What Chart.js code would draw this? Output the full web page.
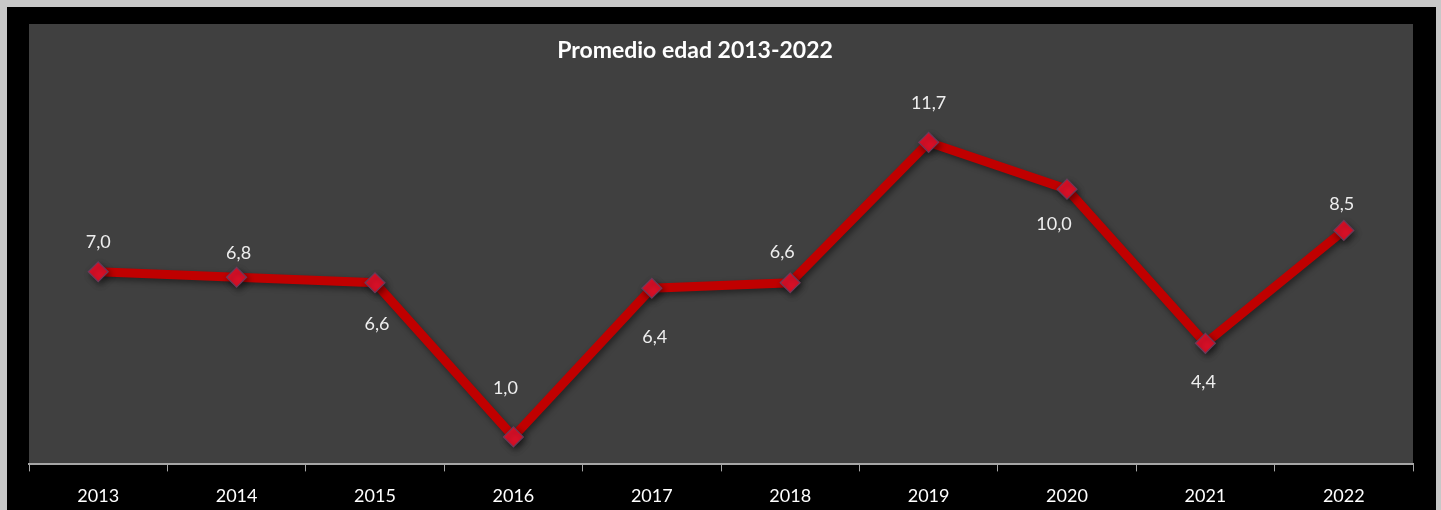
<!DOCTYPE html>
<html>
<head>
<meta charset="utf-8">
<script src="https://cdn.jsdelivr.net/npm/chart.js@4/dist/chart.umd.min.js"></script>
<style>
  html, body { margin: 0; padding: 0; background: #c8c8c8; overflow: hidden; }
  #wrap { position: absolute; left: 7px; top: 7px; width: 1429px; height: 503px; background: #000; overflow: hidden; }
  #inner { position: relative; width: 1429px; height: 514px; }
</style>
</head>
<body>
<div id="wrap"><div id="inner"><canvas id="chart"></canvas></div></div>
<script>
// Data
const years = ['2013', '2014', '2015', '2016', '2017', '2018', '2019', '2020', '2021', '2022'];
const avgAge = [7.0, 6.8, 6.6, 1.0, 6.4, 6.6, 11.7, 10.0, 4.4, 8.5];
const labelSide = ['above', 'above', 'below', 'above', 'below', 'above', 'above', 'below', 'below', 'above'];
const chartTitle = 'Promedio edad 2013-2022';

// gray plot panel + title
const panelPlugin = {
    id: 'panel',
    beforeDraw(chart) {
        const { ctx, chartArea: a } = chart;
        ctx.save();
        ctx.fillStyle = '#404040';
        ctx.fillRect(a.left, a.top, a.right - a.left, a.bottom - a.top);
        ctx.font = 'bold 23px Lato, "Open Sans", sans-serif';
        ctx.fillStyle = '#ffffff';
        ctx.textAlign = 'center';
        ctx.textBaseline = 'middle';
        ctx.fillText(chartTitle, (a.left + a.right) / 2 - 26, a.top + 27);
        ctx.restore();
    }
};

// value labels (comma decimals)
const labelPlugin = {
    id: 'valueLabels',
    afterDatasetsDraw(chart, args, opts) {
        const { ctx } = chart;
        const meta = chart.getDatasetMeta(0);
        ctx.save();
        ctx.font = '18px Lato, "Open Sans", sans-serif';
        ctx.fillStyle = '#eeeeee';
        ctx.textAlign = 'center';
        ctx.textBaseline = 'middle';
        meta.data.forEach((pt, i) => {
            const txt = avgAge[i].toFixed(1).replace('.', ',');
            const off = opts.offsets[i] || [0, 0];
            const dy = labelSide[i] === 'above' ? -opts.above : opts.below;
            ctx.fillText(txt, pt.x + off[0], pt.y + dy + off[1]);
        });
        ctx.restore();
    }
};

const shadowPlugin = {
    id: 'lineShadow',
    beforeDatasetDraw(chart) {
        const ctx = chart.ctx;
        ctx.save();
        ctx.shadowColor = 'rgba(0,0,0,0.45)';
        ctx.shadowBlur = 6;
        ctx.shadowOffsetX = 2;
        ctx.shadowOffsetY = 3;
    },
    afterDatasetDraw(chart) {
        chart.ctx.restore();
    }
};

const ctx = document.getElementById('chart').getContext('2d');
new Chart(ctx, {
    type: 'line',
    data: {
        labels: years,
        datasets: [{
            label: 'Promedio edad',
            data: avgAge,
            borderColor: '#c00000',
            borderWidth: 9,
            tension: 0,
            pointStyle: 'rectRot',
            pointRadius: 10,
            pointBackgroundColor: '#dc1028',
            pointBorderColor: '#6a3a5a',
            pointBorderWidth: 1.2
        }]
    },
    options: {
        responsive: true,
        maintainAspectRatio: false,
        animation: false,
        layout: { padding: { left: 22, right: 23, top: 17, bottom: 0 } },
        plugins: {
            legend: { display: false },
            tooltip: { enabled: false },
            valueLabels: {
                above: 30,
                below: 41,
                offsets: [[0, 0], [2, 6], [2, 0], [-8, -19], [3, 8], [-8, -1], [0, -9], [-13, -6], [-2, -2], [-2, 4]]
            }
        },
        scales: {
            x: {
                offset: true,
                grid: {
                    offset: true,
                    drawOnChartArea: false,
                    drawTicks: true,
                    tickLength: 7,
                    color: '#a6a6a6'
                },
                border: { color: '#a6a6a6', width: 2 },
                ticks: {
                    color: '#ffffff',
                    padding: 14,
                    font: { family: 'Lato, "Open Sans", sans-serif', size: 18 }
                }
            },
            y: {
                display: false,
                min: 0,
                max: 16
            }
        }
    },
    plugins: [panelPlugin, shadowPlugin, labelPlugin]
});
</script>
</body>
</html>
